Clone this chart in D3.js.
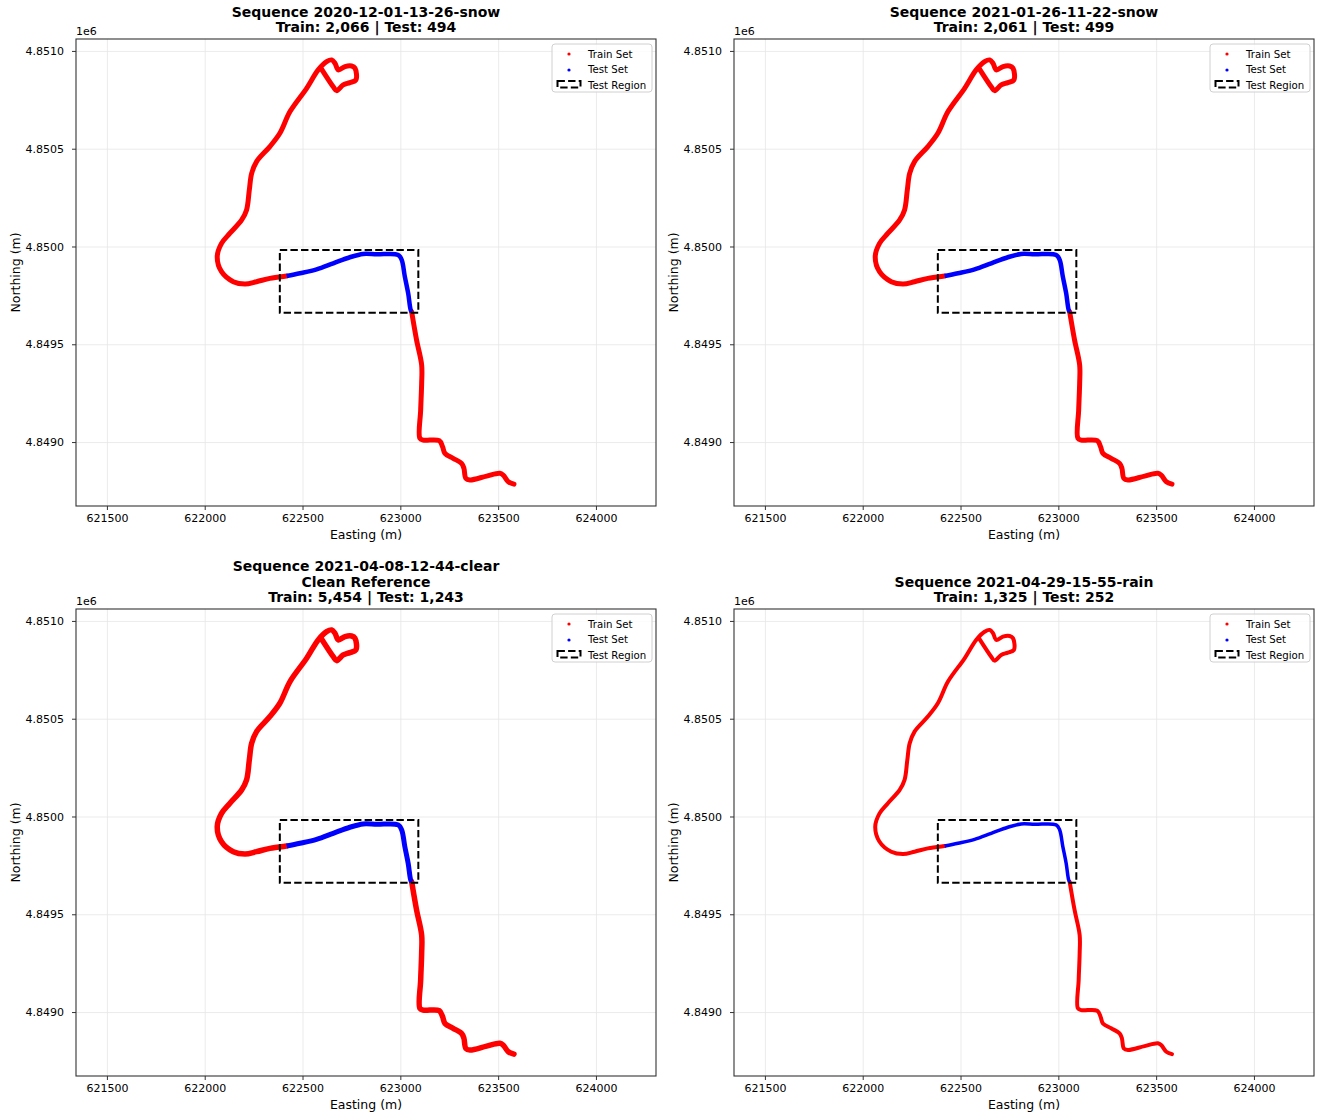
<!DOCTYPE html>
<html>
<head>
<meta charset="utf-8">
<script src="https://cdn.jsdelivr.net/npm/d3@7"></script>
<style>
  body { margin: 0; background: #fff; }
  svg { font-family: "DejaVu Sans", sans-serif; display: block; }
  .tick text { font-size: 11px; fill: #000; font-family: "DejaVu Sans", sans-serif; }
  .axis-title { font-size: 12.5px; fill: #000; }
  .plot-title { font-size: 14px; font-weight: bold; fill: #000; }
</style>
</head>
<body>
<svg id="chart" width="1318" height="1115"></svg>
<script>
(function () {
    // sequences shown, one per panel
    const sequences = ["2020-12-01-13-26-snow", "2021-01-26-11-22-snow", "2021-04-08-12-44-clear", "2021-04-29-15-55-rain"]
    const notes = ["", "", "Clean Reference", ""]
    const trainCounts = [2066, 2061, 5454, 1325]
    const testCounts = [494, 499, 1243, 252]

    // route in UTM (easting, northing)
    const routeNorth = [
        [622419, 4849849], [622410, 4849848], [622333, 4849837], [622265, 4849820], [622206, 4849808],
        [622146, 4849820], [622086, 4849871], [622064, 4849948], [622086, 4850016], [622129, 4850068],
        [622189, 4850136], [622214, 4850187], [622228, 4850289], [622240, 4850374], [622265, 4850434],
        [622333, 4850511], [622384, 4850579], [622436, 4850690], [622521, 4850809], [622580, 4850903],
        [622623, 4850945], [622649, 4850954], [622666, 4850937], [622683, 4850903], [622717, 4850920],
        [622751, 4850923], [622768, 4850912], [622773, 4850852], [622742, 4850838], [622708, 4850826],
        [622674, 4850797], [622657, 4850817], [622598, 4850906]
    ]
    const routeTest = [
        [622419, 4849849], [622487, 4849863], [622572, 4849883], [622657, 4849914], [622742, 4849945],
        [622810, 4849962], [622879, 4849960], [622989, 4849957], [623007, 4849931], [623023, 4849846],
        [623040, 4849761], [623053, 4849675], [623058, 4849666]
    ]
    const routeSouth = [
        [623058, 4849666], [623083, 4849522], [623109, 4849394], [623109, 4849300], [623104, 4849164],
        [623100, 4849019], [623117, 4849010], [623199, 4849007], [623216, 4848976], [623228, 4848942],
        [623270, 4848917], [623313, 4848891], [623325, 4848866], [623335, 4848814], [623356, 4848806],
        [623441, 4848826], [623509, 4848840], [623526, 4848831], [623552, 4848797], [623581, 4848785]
    ]
    // test region box: easting min/max, northing min/max
    const testRegionE = [622384, 623092]
    const testRegionN = [4849661, 4849982]

    const xTicks = [621500, 622000, 622500, 623000, 623500, 624000]
    const yTicks = [4849000, 4849500, 4850000, 4850500, 4851000]
    const xDomain = [621342, 624307]
    const yDomain = [4848673, 4851061]

    var width = 580, height = 467
    const lefts = [76, 734], tops = [39, 609]
    const lineWidths = [5, 5, 5.5, 4]

    var svg = d3.select("#chart")
    var x = d3.scaleLinear().domain(xDomain).range([0, width])
    var y = d3.scaleLinear().domain(yDomain).range([height, 0])
    var line = d3.line()
        .x((d) => x(d[0]))
        .y((d) => y(d[1]))
        .curve(d3.curveCatmullRom.alpha(0.5))
    var fmt = d3.format(",")

    sequences.forEach((seq, i) => {
        const chart = svg.append("g")
            .attr("transform", `translate(${lefts[i % 2]}, ${tops[Math.floor(i / 2)]})`)

        //grid lines
        chart.append("g")
            .attr("transform", `translate(0, ${height})`)
            .call(d3.axisBottom(x).tickValues(xTicks).tickSize(-height).tickFormat(""))
            .call((g) => g.select(".domain").remove())
            .call((g) => g.selectAll("line").attr("stroke", "#e6e6e6").attr("stroke-width", 0.8))
        chart.append("g")
            .call(d3.axisLeft(y).tickValues(yTicks).tickSize(-width).tickFormat(""))
            .call((g) => g.select(".domain").remove())
            .call((g) => g.selectAll("line").attr("stroke", "#e6e6e6").attr("stroke-width", 0.8))

        //axes with ticks
        chart.append("g")
            .attr("transform", `translate(0, ${height})`)
            .call(d3.axisBottom(x).tickValues(xTicks).tickSize(4).tickPadding(4).tickFormat(d3.format("d")))
            .attr("font-family", null).attr("font-size", null)
            .call((g) => g.select(".domain").remove())
            .call((g) => g.selectAll("line").attr("stroke", "#333"))
        chart.append("g")
            .call(d3.axisLeft(y).tickValues(yTicks).tickSize(4).tickPadding(8).tickFormat((d) => (d / 1e6).toFixed(4)))
            .attr("font-family", null).attr("font-size", null)
            .call((g) => g.select(".domain").remove())
            .call((g) => g.selectAll("line").attr("stroke", "#333"))

        //trajectory: train in red, test in blue
        const lw = lineWidths[i]
        chart.append("path").datum(routeNorth)
            .attr("d", line).attr("fill", "none").attr("stroke", "#ff0000")
            .attr("stroke-width", lw).attr("stroke-linecap", "round").attr("stroke-linejoin", "round")
        chart.append("path").datum(routeSouth)
            .attr("d", line).attr("fill", "none").attr("stroke", "#ff0000")
            .attr("stroke-width", lw).attr("stroke-linecap", "round").attr("stroke-linejoin", "round")
        chart.append("path").datum(routeTest)
            .attr("d", line).attr("fill", "none").attr("stroke", "#0000ff")
            .attr("stroke-width", lw - 0.5).attr("stroke-linejoin", "round")

        //test region box
        chart.append("rect")
            .attr("x", x(testRegionE[0]))
            .attr("y", y(testRegionN[1]))
            .attr("width", x(testRegionE[1]) - x(testRegionE[0]))
            .attr("height", y(testRegionN[0]) - y(testRegionN[1]))
            .attr("fill", "none").attr("stroke", "#000").attr("stroke-width", 2)
            .attr("stroke-dasharray", "7.4,3.2")

        //frame
        chart.append("rect")
            .attr("width", width).attr("height", height)
            .attr("fill", "none").attr("stroke", "#333").attr("stroke-width", 1.1)

        //legend
        const lg = chart.append("g").attr("transform", `translate(${width - 104}, 5)`)
        lg.append("rect")
            .attr("width", 100).attr("height", 48).attr("rx", 3)
            .attr("fill", "#fff").attr("fill-opacity", 0.8).attr("stroke", "#d0d0d0")
        lg.append("circle").attr("cx", 17).attr("cy", 10).attr("r", 1.6).attr("fill", "#ff0000")
        lg.append("circle").attr("cx", 17).attr("cy", 26).attr("r", 1.6).attr("fill", "#0000ff")
        lg.append("rect").attr("x", 5.5).attr("y", 37).attr("width", 23).attr("height", 6.5)
            .attr("fill", "none").attr("stroke", "#000").attr("stroke-width", 2).attr("stroke-dasharray", "7.4,3.2")
        const labels = ["Train Set", "Test Set", "Test Region"]
        lg.selectAll(".lg-text").data(labels).join("text")
            .attr("class", "lg-text")
            .attr("x", 36)
            .attr("y", (d, k) => 13.5 + k * 15.7)
            .attr("font-size", 10.2)
            .text((d) => d)

        //offset text
        chart.append("text")
            .attr("x", 0).attr("y", -4)
            .attr("font-size", 11)
            .text("1e6")

        //titles
        const lines = ["Sequence " + seq]
        if (notes[i]) lines.push(notes[i])
        lines.push("Train: " + fmt(trainCounts[i]) + " | Test: " + fmt(testCounts[i]))
        lines.forEach((t, k) => {
            chart.append("text")
                .attr("class", "plot-title")
                .attr("text-anchor", "middle")
                .attr("x", width / 2)
                .attr("y", -7 - (lines.length - 1 - k) * 15.5)
                .text(t)
        })

        chart.append("text") //x-axis
            .attr("class", "axis-title")
            .attr("text-anchor", "middle")
            .attr("x", width / 2)
            .attr("y", height + 33)
            .text("Easting (m)")

        chart.append("text") //y-axis
            .attr("class", "axis-title")
            .attr("text-anchor", "middle")
            .attr("transform", `translate(-56, ${height / 2}) rotate(-90)`)
            .text("Northing (m)")
    })
})();
</script>
</body>
</html>
